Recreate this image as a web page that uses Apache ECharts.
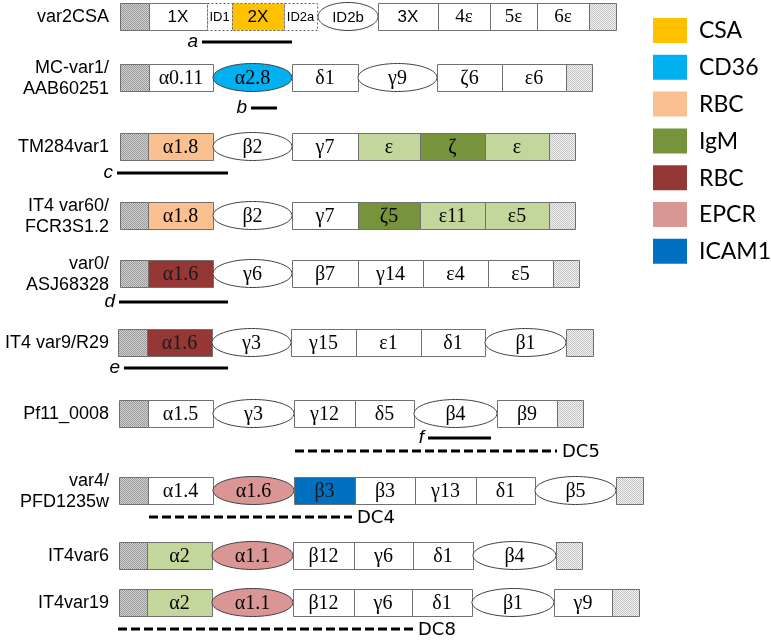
<!DOCTYPE html>
<html>
<head>
<meta charset="utf-8">
<script src="https://cdn.jsdelivr.net/npm/echarts@6/dist/echarts.min.js"></script>
<style>html,body{margin:0;padding:0;background:#fff}#c{width:771px;height:640px}</style>
</head>
<body>
<div id="c"></div>
<script>
// ---- data ----
const rowLabels = ['var2CSA', 'MC-var1/\nAAB60251', 'TM284var1', 'IT4 var60/\nFCR3S1.2', 'var0/\nASJ68328',
  'IT4 var9/R29', 'Pf11_0008', 'var4/\nPFD1235w', 'IT4var6', 'IT4var19'];
const rowTop = [3, 64, 133, 202, 260, 329, 400, 477, 542, 589];
// domain: [label, start, end, shape, binding]  shape: N/C termini, R rect, E ellipse, D dotted rect
const var2CSA = [['',120,149,'N',''],['1X',149,207,'R',''],['ID1',207,232,'D',''],['2X',232,284,'D','CSA'],
  ['ID2a',284,317,'D',''],['ID2b',318,378,'E',''],['3X',378,438,'R',''],['4ε',438,490,'R',''],
  ['5ε',490,537,'R',''],['6ε',537,589,'R',''],['',589,616,'C','']];
const mcVar1 = [['',120,149,'N',''],['α0.11',149,213,'R',''],['α2.8',213,292,'E','CD36'],['δ1',292,358,'R',''],
  ['γ9',358,437,'E',''],['ζ6',437,502,'R',''],['ε6',502,566,'R',''],['',566,592,'C','']];
const tm284var1 = [['',120,148,'N',''],['α1.8',148,213,'R','RBCa'],['β2',213,292,'E',''],['γ7',292,358,'R',''],
  ['ε',358,420,'R','IgMl'],['ζ',420,485,'R','IgM'],['ε',485,549,'R','IgMl'],['',549,575,'C','']];
const it4var60 = [['',120,148,'N',''],['α1.8',148,213,'R','RBCa'],['β2',213,292,'E',''],['γ7',292,358,'R',''],
  ['ζ5',358,420,'R','IgM'],['ε11',420,485,'R','IgMl'],['ε5',485,549,'R','IgMl'],['',549,575,'C','']];
const var0 = [['',120,148,'N',''],['α1.6',148,213,'R','RBCb'],['γ6',213,292,'E',''],['β7',292,358,'R',''],
  ['γ14',358,423,'R',''],['ε4',423,488,'R',''],['ε5',488,553,'R',''],['',553,579,'C','']];
const it4var9 = [['',118,147,'N',''],['α1.6',147,212,'R','RBCb'],['γ3',212,291,'E',''],['γ15',291,356,'R',''],
  ['ε1',356,421,'R',''],['δ1',421,485,'R',''],['β1',485,566,'E',''],['',566,593,'C','']];
const pf11 = [['',119,148,'N',''],['α1.5',148,213,'R',''],['γ3',213,294,'E',''],['γ12',294,355,'R',''],
  ['δ5',355,414,'R',''],['β4',414,497,'E',''],['β9',497,557,'R',''],['',557,583,'C','']];
const var4 = [['',119,148,'N',''],['α1.4',148,213,'R',''],['α1.6',213,294,'E','EPCR'],['β3',294,355,'R','ICAM1'],
  ['β3',355,415,'R',''],['γ13',415,476,'R',''],['δ1',476,535,'R',''],['β5',535,616,'E',''],['',616,643,'C','']];
const it4var6 = [['',119,147,'N',''],['α2',147,212,'R','IgMl'],['α1.1',212,293,'E','EPCR'],['β12',293,354,'R',''],
  ['γ6',354,413,'R',''],['δ1',413,473,'R',''],['β4',473,556,'E',''],['',556,582,'C','']];
const it4var19 = [['',119,147,'N',''],['α2',147,212,'R','IgMl'],['α1.1',212,293,'E','EPCR'],['β12',293,354,'R',''],
  ['γ6',354,412,'R',''],['δ1',412,472,'R',''],['β1',472,554,'E',''],['γ9',554,612,'R',''],['',612,639,'C','']];
const rows = [var2CSA, mcVar1, tm284var1, it4var60, var0, it4var9, pf11, var4, it4var6, it4var19];

const markLabels = ['a', 'b', 'c', 'd', 'e', 'f'];
const markStart = [202, 251, 117, 119, 124, 428];
const markEnd = [292, 277, 228, 228, 228, 491];
const markY = [42, 108, 173, 302, 368, 438];
const dcLabels = ['DC5', 'DC4', 'DC8'];
const dcStart = [295, 149, 118];
const dcEnd = [557, 352, 413];
const dcY = [451, 517, 629];

const legendNames = ['CSA', 'CD36', 'RBC', 'IgM', 'RBC', 'EPCR', 'ICAM1'];
const legendKeys = ['CSA', 'CD36', 'RBCa', 'IgM', 'RBCb', 'EPCR', 'ICAM1'];

// ---- styles ----
const fills = { '': '#ffffff', CSA: '#FFC000', CD36: '#00B0F0', RBCa: '#FAC090', IgM: '#77933C', IgMl: '#C3D69B',
  RBCb: '#953735', EPCR: '#D99694', ICAM1: '#0070C0' };
const ROW_H = 27;

function makePattern(a, b) {
  const cv = document.createElement('canvas');
  cv.width = 2; cv.height = 2;
  const g = cv.getContext('2d');
  g.fillStyle = a; g.fillRect(0, 0, 2, 2);
  g.fillStyle = b; g.fillRect(0, 0, 1, 1); g.fillRect(1, 1, 1, 1);
  return { image: cv, repeat: 'repeat' };
}
const nPattern = makePattern('#d0d0d0', '#9a9a9a');
const cPattern = makePattern('#f2f2f2', '#c4c4c4');

const flat = [];
rows.forEach((r, ri) => r.forEach(d => flat.push({ label: d[0], s: d[1], e: d[2], shape: d[3], bind: d[4], row: ri })));

function domainItem(params, api) {
  const d = flat[api.value(3)];
  const top = rowTop[d.row];
  const p1 = api.coord([d.s, top]);
  const p2 = api.coord([d.e, top + ROW_H]);
  const x = p1[0], y = Math.min(p1[1], p2[1]), w = p2[0] - p1[0], h = Math.abs(p2[1] - p1[1]);
  const children = [];
  if (d.shape === 'E') {
    children.push({ type: 'ellipse', shape: { cx: x + w / 2, cy: y + h / 2, rx: w / 2, ry: h / 2 + 0.5 },
      style: { fill: fills[d.bind], stroke: '#404040', lineWidth: 1 } });
  } else {
    let fill = fills[d.bind], stroke = '#707070', dash = null;
    if (d.shape === 'N') fill = nPattern;
    if (d.shape === 'C') fill = cPattern;
    if (d.shape === 'D') { dash = [2, 2]; stroke = '#666'; }
    children.push({ type: 'rect', shape: { x: x + 0.5, y: y + 0.5, width: w, height: h },
      style: { fill: fill, stroke: stroke, lineWidth: 1, lineDash: dash } });
  }
  if (d.label) {
    const greek = /[α-ω]/.test(d.label);
    let font;
    if (greek) font = (d.row === 0 ? '19px' : '20px') + ' "Liberation Serif", serif';
    else if (d.label === 'ID2b') font = '15px "Liberation Sans", Arial, sans-serif';
    else font = (d.label.length >= 3 ? '13px' : '17px') + ' "Liberation Sans", Arial, sans-serif';
    children.push({ type: 'text', style: { text: d.label, x: x + w / 2, y: y + h / 2 + 1, align: 'center',
      verticalAlign: 'middle', font: font, fill: d.bind === 'RBCb' || d.bind === 'ICAM1' ? '#1a1a1a' : '#000' } });
  }
  return { type: 'group', children: children };
}

function rowLabelItem(params, api) {
  const i = api.value(0);
  const p = api.coord([109, rowTop[i] + ROW_H / 2]);
  return { type: 'text', style: { text: rowLabels[i], x: p[0], y: p[1] + 1, align: 'right', verticalAlign: 'middle',
    font: '18px "Liberation Sans", Arial, sans-serif', lineHeight: 21, fill: '#000' } };
}

function markItem(params, api) {
  const i = api.value(0);
  const a = api.coord([markStart[i], markY[i]]);
  const b = api.coord([markEnd[i], markY[i]]);
  return { type: 'group', children: [
    { type: 'line', shape: { x1: a[0], y1: a[1], x2: b[0], y2: b[1] }, style: { stroke: '#000', lineWidth: 3 } },
    { type: 'text', style: { text: markLabels[i], x: a[0] - 4, y: a[1], align: 'right', verticalAlign: 'middle',
      font: 'italic 19px "Liberation Sans", Arial, sans-serif', fill: '#000' } }
  ] };
}

function dcItem(params, api) {
  const i = api.value(0);
  const a = api.coord([dcStart[i], dcY[i]]);
  const b = api.coord([dcEnd[i], dcY[i]]);
  return { type: 'group', children: [
    { type: 'line', shape: { x1: a[0], y1: a[1], x2: b[0], y2: b[1] }, style: { stroke: '#000', lineWidth: 3, lineDash: [9, 4] } },
    { type: 'text', style: { text: dcLabels[i], x: b[0] + 5, y: b[1] + 1, align: 'left', verticalAlign: 'middle',
      font: '18px "DejaVu Sans", Verdana, sans-serif', fill: '#000' } }
  ] };
}

function legendItem(params, api) {
  const i = api.value(0);
  const top = 18 + i * 36.8;
  const p = api.coord([653, top]);
  return { type: 'group', children: [
    { type: 'rect', shape: { x: p[0], y: p[1], width: 34, height: 25 }, style: { fill: fills[legendKeys[i]] } },
    { type: 'text', style: { text: legendNames[i], x: p[0] + 46, y: p[1] + 13, align: 'left', verticalAlign: 'middle',
      font: '23px Lato, "Open Sans", sans-serif', fill: '#000' } }
  ] };
}

const chart = echarts.init(document.getElementById('c'), null, { renderer: 'canvas' });
chart.setOption({
  animation: false,
  grid: { left: 0, right: 0, top: 0, bottom: 0 },
  xAxis: { type: 'value', min: 0, max: 771, show: false },
  yAxis: { type: 'value', min: 0, max: 640, inverse: true, show: false },
  series: [
    { type: 'custom', renderItem: domainItem, data: flat.map((d, i) => [d.s, d.e, d.row, i]), clip: false },
    { type: 'custom', renderItem: rowLabelItem, data: rowLabels.map((_, i) => [i]), clip: false },
    { type: 'custom', renderItem: markItem, data: markLabels.map((_, i) => [i]), clip: false },
    { type: 'custom', renderItem: dcItem, data: dcLabels.map((_, i) => [i]), clip: false },
    { type: 'custom', renderItem: legendItem, data: legendNames.map((_, i) => [i]), clip: false }
  ]
});
</script>
</body>
</html>
